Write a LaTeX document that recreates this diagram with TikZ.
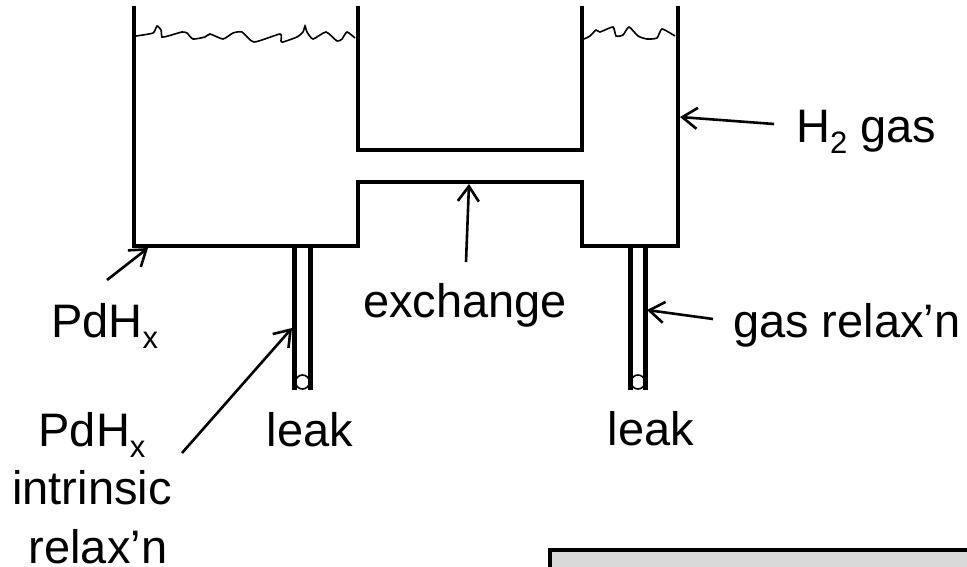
\documentclass[tikz,border=0pt]{standalone}
\usepackage{fontspec}
\setmainfont{Liberation Sans}
\usetikzlibrary{arrows.meta}

\newcommand{\lowsub}[1]{\raisebox{-11pt}{\fontsize{31}{31}\selectfont #1}}

\begin{document}
\begin{tikzpicture}[x = 1pt, y = -1pt, > = {Straight Barb[length = 15pt, width = 21pt]},
	wall/.style = {line width = 4.5pt, line cap = butt, line join = miter},
	tube/.style = {line width = 4.5pt},
	surface/.style = {line width = 1.6pt, smooth, tension = 0.35},
	label/.style = {inner sep = 0pt, font = \fontsize{47}{58}\selectfont},
	pointer/.style = {->, line width = 2.6pt}]

	\clip (0, 0) rectangle (967, 566);

	% Vessel walls

	\draw[wall] (134, 6) -- (134, 246) -- (358, 246) -- (358, 182) -- (582, 182) -- (582, 246) -- (678, 246) -- (678, 6);
	\draw[wall] (358, 6) -- (358, 150) -- (582, 150) -- (582, 6);

	% Leak tubes

	\draw[tube] (294.5, 246) -- (294.5, 390);
	\draw[tube] (310.5, 246) -- (310.5, 390);
	\draw[tube] (630.5, 246) -- (630.5, 390);
	\draw[tube] (645.5, 246) -- (645.5, 390);
	\draw[line width = 1.6pt] (302.5, 382) circle (7);
	\draw[line width = 1.6pt] (638, 382) circle (7);

	% Liquid surfaces

	\draw[surface] plot coordinates {(136, 36) (153, 33) (157, 26) (161, 30) (162, 37) (168, 36) (182, 32) (187, 33) (193, 39) (205, 37) (210, 34) (223, 39) (233, 33) (242, 32) (254, 42) (280, 34) (281, 41) (283, 42) (297, 37) (303, 32) (305, 26) (307, 32) (313, 39) (326, 32) (337, 41) (342, 39) (347, 32) (355, 38)};
	\draw[surface] plot coordinates {(584, 39) (590, 36) (596, 30) (600, 32) (613, 27) (616, 36) (623, 35) (629, 27) (638, 36) (647, 39) (657, 38) (662, 29) (675, 36)};

	% Labels

	\node[label, anchor = base west] (gas) at (796, 142) {H\lowsub{2} gas};
	\node[label, anchor = base west] (pd) at (51, 337) {PdH\lowsub{x}};
	\node[label, anchor = base] (exch) at (465, 317) {exchange};
	\node[label, anchor = base west] (relax) at (733, 337) {gas relax'n};
	\node[label, anchor = base] (leakl) at (310, 446) {leak};
	\node[label, anchor = base] (leakr) at (651, 445) {leak};
	\node[label, anchor = base] (intr) at (92, 446) {PdH\lowsub{x}};
	\node[label, anchor = base] (intrb) at (92, 504) {intrinsic};
	\node[label, anchor = base] (intrc) at (98, 563) {relax'n};

	% Arrow tips on the vessel

	\coordinate (gastip) at (680, 117);
	\coordinate (pdtip) at (148, 248);
	\coordinate (exchtip) at (469, 184);
	\coordinate (relaxtip) at (647, 310);
	\coordinate (intrtip) at (292, 328);

	\draw[pointer] (gas.base west) ++(-22, -18) -- (gastip);
	\draw[pointer] (pd.base west) ++(56, -57) -- (pdtip);
	\draw[pointer] (exch.base) ++(1, -55) -- (exchtip);
	\draw[pointer] (relax.base west) ++(-20, -18) -- (relaxtip);
	\draw[pointer] (intr.base) ++(90, 7) -- (intrtip);

	% Grey panel, runs off the page

	\node[draw, line width = 4pt, fill = black!15, minimum width = 440pt, minimum height = 40pt, anchor = north west] (panel) at (548, 548) {};

\end{tikzpicture}
\end{document}
